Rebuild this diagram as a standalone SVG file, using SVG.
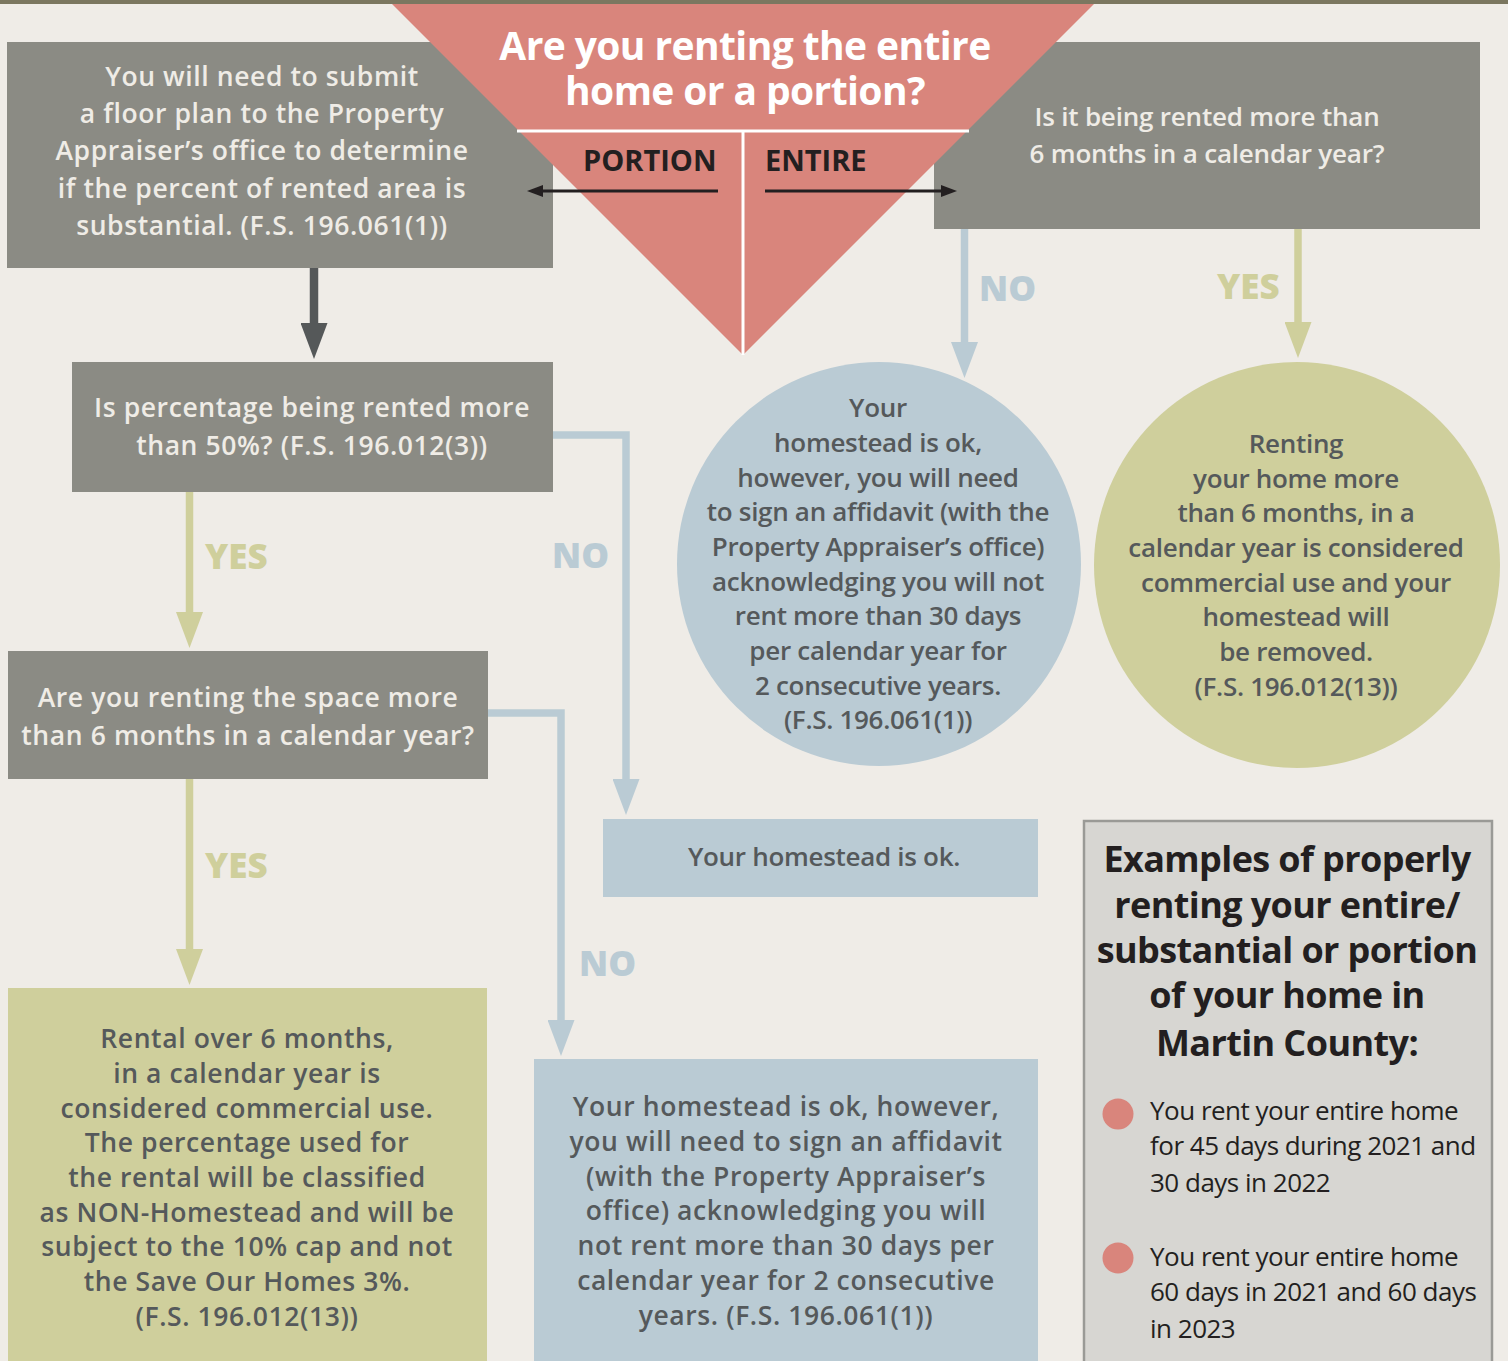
<svg xmlns="http://www.w3.org/2000/svg" width="1508" height="1361" viewBox="0 0 1508 1361">
<style>
text{font-family:"Open Sans","Noto Sans","Liberation Sans",sans-serif;}
.gray{fill:#8b8b84;}
.blue{fill:#bacbd4;}
.green{fill:#cfcf9c;}
.salmon{fill:#d9857c;}
.lt{fill:#efece6;font-weight:600;font-size:26.5px;letter-spacing:0.6px;text-anchor:middle;}
.lt2{fill:#efece6;font-weight:600;font-size:26px;letter-spacing:-0.2px;text-anchor:middle;}
.dk{fill:#55595b;font-weight:600;font-size:26px;letter-spacing:-0.3px;text-anchor:middle;}
.dkw{fill:#55595b;font-weight:600;font-size:26.5px;letter-spacing:0.6px;text-anchor:middle;}
.title{fill:#ffffff;font-weight:700;font-size:39px;letter-spacing:-0.6px;text-anchor:middle;}
.pe{fill:#231f20;font-weight:700;font-size:29px;}
.lbl{font-weight:800;font-size:35px;}
.lblb{fill:#bacbd4;}
.lblg{fill:#cfcf9c;}
.ex{fill:#231f20;font-weight:700;font-size:36px;letter-spacing:-0.6px;text-anchor:middle;}
.bt{fill:#231f20;font-weight:400;font-size:26px;letter-spacing:-0.5px;}
.cb{stroke:#bacbd4;stroke-width:7.5;fill:none;}
.cg{stroke:#cfcf9c;stroke-width:7.5;fill:none;}
.cd{stroke:#555859;stroke-width:8.5;fill:none;}
.ck{stroke:#231f20;stroke-width:3;fill:none;}
</style>
<defs>
<marker id="hb" viewBox="0 0 36 27" refX="0" refY="13.5" markerWidth="36" markerHeight="27" markerUnits="userSpaceOnUse" orient="auto"><path d="M0,0 L36,13.5 L0,27 z" fill="#bacbd4"/></marker>
<marker id="hg" viewBox="0 0 36 27" refX="0" refY="13.5" markerWidth="36" markerHeight="27" markerUnits="userSpaceOnUse" orient="auto"><path d="M0,0 L36,13.5 L0,27 z" fill="#cfcf9c"/></marker>
<marker id="hd" viewBox="0 0 36 27" refX="0" refY="13.5" markerWidth="36" markerHeight="27" markerUnits="userSpaceOnUse" orient="auto"><path d="M0,0 L36,13.5 L0,27 z" fill="#555859"/></marker>
<marker id="hk" viewBox="0 0 16 12" refX="0" refY="6" markerWidth="16" markerHeight="12" markerUnits="userSpaceOnUse" orient="auto"><path d="M0,0 L16,6 L0,12 z" fill="#231f20"/></marker>
</defs>
<rect x="0" y="0" width="1508" height="1361" fill="#efece7"/>

<g id="node-floorplan">
<rect class="gray" x="7" y="42" width="546" height="226"/>
<text class="lt" x="262" y="86">You will need to submit</text>
<text class="lt" x="262" y="123">a floor plan to the Property</text>
<text class="lt" x="262" y="160">Appraiser’s office to determine</text>
<text class="lt" x="262" y="198">if the percent of rented area is</text>
<text class="lt" x="262" y="235">substantial. (F.S. 196.061(1))</text>
</g>

<g id="node-entire-6months">
<rect class="gray" x="934" y="42" width="546" height="187"/>
<text class="lt2" x="1207" y="126">Is it being rented more than</text>
<text class="lt2" x="1207" y="163">6 months in a calendar year?</text>
</g>

<g id="node-question">
<polygon class="salmon" points="388,0 1098,0 743,355"/>
<line x1="517" y1="131" x2="969" y2="131" stroke="#ffffff" stroke-width="3"/>
<line x1="743" y1="131" x2="743" y2="355" stroke="#ffffff" stroke-width="3"/>
<text class="title" x="745" y="60">Are you renting the entire</text>
<text class="title" x="745" y="105">home or a portion?</text>
<text class="pe" x="583" y="171">PORTION</text>
<text class="pe" x="765" y="171">ENTIRE</text>
</g>
<rect x="0" y="0" width="1508" height="4" fill="#7b7760"/>

<g id="node-percentage">
<rect class="gray" x="72" y="362" width="481" height="130"/>
<text class="lt" x="312" y="417">Is percentage being rented more</text>
<text class="lt" x="312" y="455">than 50%? (F.S. 196.012(3))</text>
</g>

<g id="node-space-6months">
<rect class="gray" x="8" y="651" width="480" height="128"/>
<text class="lt" x="248" y="707">Are you renting the space more</text>
<text class="lt" x="248" y="745">than 6 months in a calendar year?</text>
</g>

<g id="node-affidavit-circle">
<circle class="blue" cx="879" cy="564" r="202"/>
<text class="dk" x="878" y="417">Your</text>
<text class="dk" x="878" y="452">homestead is ok,</text>
<text class="dk" x="878" y="487">however, you will need</text>
<text class="dk" x="878" y="521">to sign an affidavit (with the</text>
<text class="dk" x="878" y="556">Property Appraiser’s office)</text>
<text class="dk" x="878" y="591">acknowledging you will not</text>
<text class="dk" x="878" y="625">rent more than 30 days</text>
<text class="dk" x="878" y="660">per calendar year for</text>
<text class="dk" x="878" y="695">2 consecutive years.</text>
<text class="dk" x="878" y="729">(F.S. 196.061(1))</text>
</g>

<g id="node-removed-circle">
<circle class="green" cx="1297" cy="565" r="203"/>
<text class="dk" x="1296" y="453">Renting</text>
<text class="dk" x="1296" y="488">your home more</text>
<text class="dk" x="1296" y="522">than 6 months, in a</text>
<text class="dk" x="1296" y="557">calendar year is considered</text>
<text class="dk" x="1296" y="592">commercial use and your</text>
<text class="dk" x="1296" y="626">homestead will</text>
<text class="dk" x="1296" y="661">be removed.</text>
<text class="dk" x="1296" y="696">(F.S. 196.012(13))</text>
</g>

<g id="node-ok">
<rect class="blue" x="603" y="819" width="435" height="78"/>
<text class="dk" x="824" y="866">Your homestead is ok.</text>
</g>

<g id="node-commercial">
<rect class="green" x="8" y="988" width="479" height="373"/>
<text class="dkw" x="247" y="1048">Rental over 6 months,</text>
<text class="dkw" x="247" y="1083">in a calendar year is</text>
<text class="dkw" x="247" y="1118">considered commercial use.</text>
<text class="dkw" x="247" y="1152">The percentage used for</text>
<text class="dkw" x="247" y="1187">the rental will be classified</text>
<text class="dkw" x="247" y="1222">as NON-Homestead and will be</text>
<text class="dkw" x="247" y="1256">subject to the 10% cap and not</text>
<text class="dkw" x="247" y="1291">the Save Our Homes 3%.</text>
<text class="dkw" x="247" y="1326">(F.S. 196.012(13))</text>
</g>

<g id="node-affidavit-box">
<rect class="blue" x="534" y="1059" width="504" height="302"/>
<text class="dkw" x="786" y="1116">Your homestead is ok, however,</text>
<text class="dkw" x="786" y="1151">you will need to sign an affidavit</text>
<text class="dkw" x="786" y="1186">(with the Property Appraiser’s</text>
<text class="dkw" x="786" y="1220">office) acknowledging you will</text>
<text class="dkw" x="786" y="1255">not rent more than 30 days per</text>
<text class="dkw" x="786" y="1290">calendar year for 2 consecutive</text>
<text class="dkw" x="786" y="1325">years. (F.S. 196.061(1))</text>
</g>

<g id="node-examples">
<rect x="1084" y="821" width="408" height="545" fill="#d7d6d2" stroke="#9a9a96" stroke-width="2.5"/>
<text class="ex" x="1287" y="872">Examples of properly</text>
<text class="ex" x="1287" y="918">renting your entire/</text>
<text class="ex" x="1287" y="963">substantial or portion</text>
<text class="ex" x="1287" y="1008">of your home in</text>
<text class="ex" x="1287" y="1056">Martin County:</text>
<circle class="salmon" cx="1118" cy="1114" r="15.5"/>
<text class="bt" x="1150" y="1120">You rent your entire home</text>
<text class="bt" x="1150" y="1155">for 45 days during 2021 and</text>
<text class="bt" x="1150" y="1192">30 days in 2022</text>
<circle class="salmon" cx="1118" cy="1258" r="15.5"/>
<text class="bt" x="1150" y="1266">You rent your entire home</text>
<text class="bt" x="1150" y="1301">60 days in 2021 and 60 days</text>
<text class="bt" x="1150" y="1338">in 2023</text>
</g>

<g id="connectors">
<line class="ck" x1="718" y1="191" x2="543" y2="191" marker-end="url(#hk)"/>
<line class="ck" x1="765" y1="191" x2="941" y2="191" marker-end="url(#hk)"/>
<line class="cd" x1="314" y1="268" x2="314" y2="323" marker-end="url(#hd)"/>
<line class="cb" x1="964.5" y1="229" x2="964.5" y2="342" marker-end="url(#hb)"/>
<line class="cg" x1="1298" y1="229" x2="1298" y2="322" marker-end="url(#hg)"/>
<path class="cb" d="M553,435 H626 V779" marker-end="url(#hb)"/>
<line class="cg" x1="189.5" y1="492" x2="189.5" y2="612" marker-end="url(#hg)"/>
<line class="cg" x1="189.5" y1="779" x2="189.5" y2="949" marker-end="url(#hg)"/>
<path class="cb" d="M488,713 H561 V1020" marker-end="url(#hb)"/>
<text class="lbl lblb" x="979" y="301">NO</text>
<text class="lbl lblg" x="1217" y="299">YES</text>
<text class="lbl lblg" x="205" y="569">YES</text>
<text class="lbl lblb" x="552" y="568">NO</text>
<text class="lbl lblg" x="205" y="878">YES</text>
<text class="lbl lblb" x="579" y="976">NO</text>
</g>
</svg>
